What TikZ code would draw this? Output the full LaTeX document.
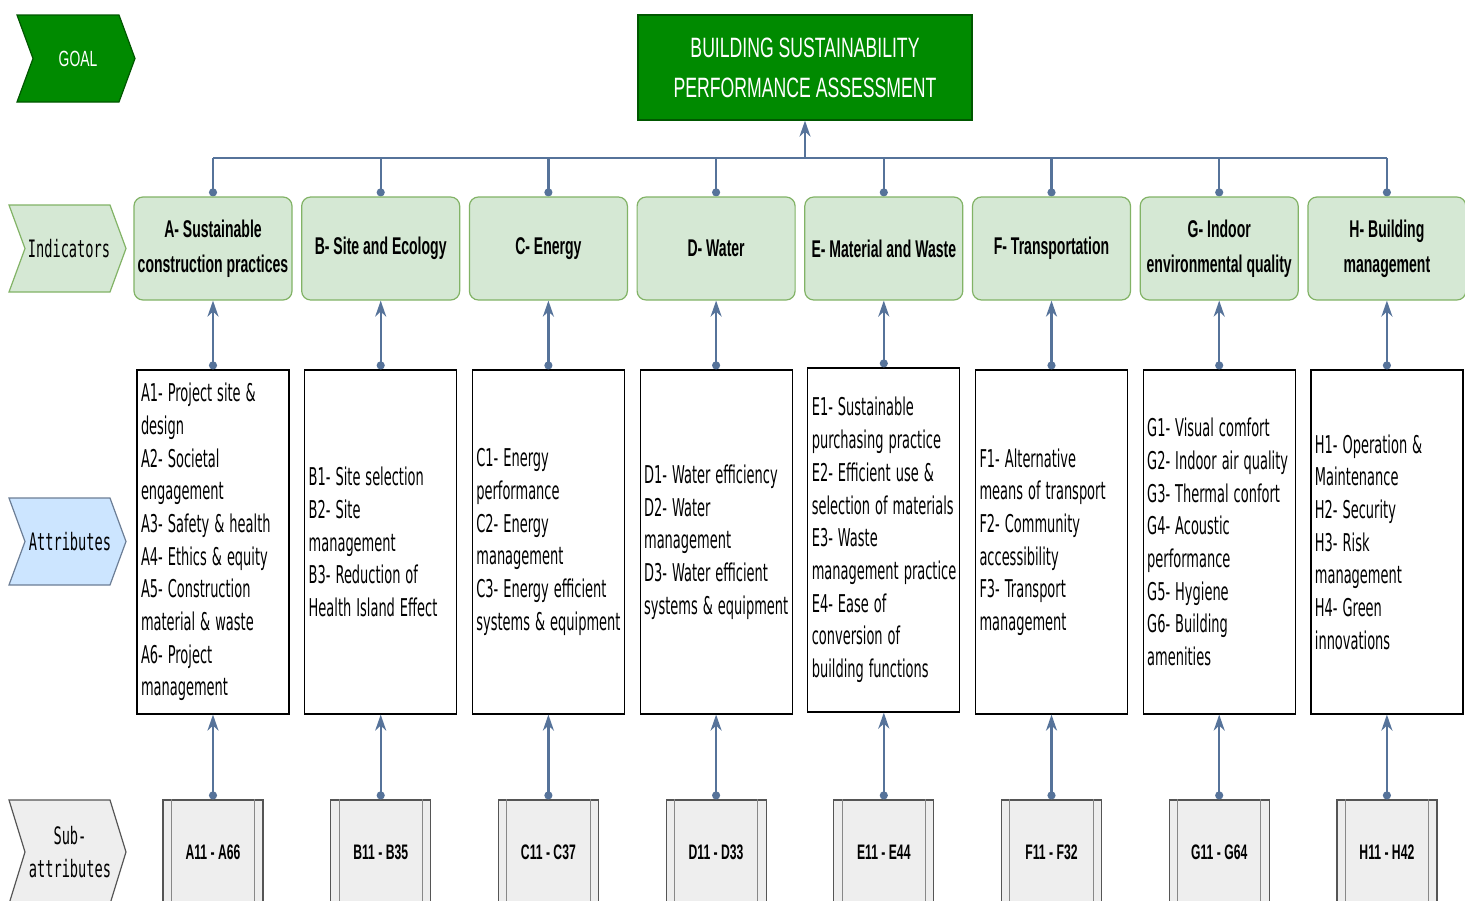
\documentclass[tikz,border=0pt]{standalone}
\usepackage{fontspec}
\setmainfont{DejaVu Sans}
\newfontfamily\attrfont[FakeStretch=0.53]{DejaVu Sans}
\newfontfamily\indfont[FakeStretch=0.58]{Liberation Sans}
\newfontfamily\titlefont[FakeStretch=0.63]{Liberation Sans}
\newfontfamily\monofont[FakeStretch=0.57]{DejaVu Sans Mono}
\usetikzlibrary{arrows.meta,backgrounds}
\definecolor{titlegreen}{HTML}{008A00}
\definecolor{titleborder}{HTML}{005700}
\definecolor{indfill}{HTML}{D5E8D4}
\definecolor{indborder}{HTML}{82B366}
\definecolor{attrfill}{HTML}{CCE5FF}
\definecolor{attrborder}{HTML}{6C7E96}
\definecolor{subfill}{HTML}{EEEEEE}
\definecolor{subborder}{HTML}{555555}
\definecolor{conncol}{HTML}{56739A}
\tikzset{
  conn/.style={draw=conncol, line width=2.2pt},
  dotarrow/.style={conn, {Circle[length=8pt,width=8pt]}-{Stealth[length=16pt,width=11pt,inset=5pt]}},
  dotline/.style={conn, {Circle[length=8pt,width=8pt]}-},
  uparrow/.style={conn, -{Stealth[length=16pt,width=11pt,inset=5pt]}},
  titlebox/.style={draw=titleborder, fill=titlegreen, line width=1.2pt, minimum width=334pt, minimum height=105pt, text=white, align=center, inner sep=0pt, font=\titlefont\fontsize{28}{40}\selectfont},
  indbox/.style={draw=indborder, fill=indfill, line width=1.2pt, rounded corners=9pt, minimum width=158pt, minimum height=103pt, align=center, inner sep=0pt, font=\indfont\bfseries\fontsize{24.2}{35}\selectfont},
  attrbox/.style={draw=black, line width=1.2pt, fill=white, minimum width=152pt, minimum height=344pt, text width=144pt, inner xsep=4pt, inner ysep=0pt, align=left, font=\attrfont\fontsize{24.5}{32.7}\selectfont},
  subbox/.style={draw=subborder, fill=subfill, line width=1.2pt, minimum width=100pt, minimum height=104pt, inner sep=0pt, font=\indfont\bfseries\fontsize{21}{25}\selectfont},
  subline/.style={draw=subborder!70, line width=1pt},
  goalchev/.style={fill=titlegreen, draw=titleborder, line width=1.2pt},
  indchev/.style={fill=indfill, draw=indborder, line width=1.2pt},
  attrchev/.style={fill=attrfill, draw=attrborder, line width=1.2pt},
  subchev/.style={fill=subfill, draw=subborder, line width=1.2pt},
  monolabel/.style={inner sep=0pt, align=center, font=\monofont\fontsize{24}{33}\selectfont},
  goallabel/.style={inner sep=0pt, text=white, font=\titlefont\fontsize{22}{26}\selectfont}
}
\newcommand{\aline}[1]{\mbox{\spaceskip=5pt\relax #1}}
\begin{document}
\begin{tikzpicture}[x=1pt,y=-1pt]
\useasboundingbox (0,0) rectangle (1465,900);

% chevrons (row labels)
\draw[goalchev] (17,15) -- (119,15) -- (135,58.5) -- (119,102) -- (17,102) -- (33,58.5) -- cycle;
\node[goallabel] (goal) at (78,58.5) {GOAL};
\draw[indchev] (9,205) -- (110,205) -- (126,248.5) -- (110,292) -- (9,292) -- (25,248.5) -- cycle;
\node[monolabel] (lind) at (69,248.5) {Indicators};
\draw[attrchev] (9,498) -- (110,498) -- (126,541.5) -- (110,585) -- (9,585) -- (25,541.5) -- cycle;
\node[monolabel] (lattr) at (70,541.5) {Attributes};
\draw[subchev] (9,800) -- (110,800) -- (126,852) -- (110,904) -- (9,904) -- (25,852) -- cycle;
\node[monolabel] (lsub) at (70,852) {Sub-\\attributes};

% title
\node[titlebox] (title) at (805,67.5) {BUILDING SUSTAINABILITY\\PERFORMANCE ASSESSMENT};

% indicators
\node[indbox] (indA) at (213,248.5) {A- Sustainable\\construction practices};
\node[indbox] (indB) at (380.7,248.5) {B- Site and Ecology};
\node[indbox] (indC) at (548.4,248.5) {C- Energy};
\node[indbox] (indD) at (716.1,248.5) {D- Water};
\node[indbox] (indE) at (883.8,248.5) {E- Material and Waste};
\node[indbox] (indF) at (1051.5,248.5) {F- Transportation};
\node[indbox] (indG) at (1219.2,248.5) {G- Indoor\\environmental quality};
\node[indbox] (indH) at (1386.9,248.5) {H- Building\\management};

% attributes
\node[attrbox] (attA) at (213,542) {\aline{A1- Project site \&}\\\aline{design}\\\aline{A2- Societal}\\\aline{engagement}\\\aline{A3- Safety \& health}\\\aline{A4- Ethics \& equity}\\\aline{A5- Construction}\\\aline{material \& waste}\\\aline{A6- Project}\\\aline{management}};
\node[attrbox] (attB) at (380.7,542) {\aline{B1- Site selection}\\\aline{B2- Site}\\\aline{management}\\\aline{B3- Reduction of}\\\aline{Health Island Effect}};
\node[attrbox] (attC) at (548.4,542) {\aline{C1- Energy}\\\aline{performance}\\\aline{C2- Energy}\\\aline{management}\\\aline{C3- Energy efficient}\\\aline{systems \& equipment}};
\node[attrbox] (attD) at (716.1,542) {\aline{D1- Water efficiency}\\\aline{D2- Water}\\\aline{management}\\\aline{D3- Water efficient}\\\aline{systems \& equipment}};
\node[attrbox] (attE) at (883.8,540) {\aline{E1- Sustainable}\\\aline{purchasing practice}\\\aline{E2- Efficient use \&}\\\aline{selection of materials}\\\aline{E3- Waste}\\\aline{management practice}\\\aline{E4- Ease of}\\\aline{conversion of}\\\aline{building functions}};
\node[attrbox] (attF) at (1051.5,542) {\aline{F1- Alternative}\\\aline{means of transport}\\\aline{F2- Community}\\\aline{accessibility}\\\aline{F3- Transport}\\\aline{management}};
\node[attrbox] (attG) at (1219.2,542) {\aline{G1- Visual comfort}\\\aline{G2- Indoor air quality}\\\aline{G3- Thermal confort}\\\aline{G4- Acoustic}\\\aline{performance}\\\aline{G5- Hygiene}\\\aline{G6- Building}\\\aline{amenities}};
\node[attrbox] (attH) at (1386.9,542) {\aline{H1- Operation \&}\\\aline{Maintenance}\\\aline{H2- Security}\\\aline{H3- Risk}\\\aline{management}\\\aline{H4- Green}\\\aline{innovations}};

% sub-attributes
\node[subbox] (subA) at (213,852) {A11 - A66};
\node[subbox] (subB) at (380.7,852) {B11 - B35};
\node[subbox] (subC) at (548.4,852) {C11 - C37};
\node[subbox] (subD) at (716.1,852) {D11 - D33};
\node[subbox] (subE) at (883.8,852) {E11 - E44};
\node[subbox] (subF) at (1051.5,852) {F11 - F32};
\node[subbox] (subG) at (1219.2,852) {G11 - G64};
\node[subbox] (subH) at (1386.9,852) {H11 - H42};

\foreach \k in {A,B,C,D,E,F,G,H} {
  \draw[subline] ([xshift=9pt]sub\k.north west) -- ([xshift=9pt]sub\k.south west);
  \draw[subline] ([xshift=-9pt]sub\k.north east) -- ([xshift=-9pt]sub\k.south east);
  \draw[dotarrow] (att\k.north) -- (ind\k.south);
  \draw[dotarrow] (sub\k.north) -- (att\k.south);
  \coordinate (bus\k) at (ind\k.north |- 0,158);
}
\coordinate (busM) at (title.south |- 0,158);
\draw[uparrow] (busM) -- (title.south);

\begin{scope}[on background layer]
  \fill[white] (0,0) rectangle (1465,900);
  \draw[conn] (busA) -- (busH);
  \foreach \k in {A,B,C,D,E,F,G,H} {
    \draw[dotline] (ind\k.north) -- (bus\k);
  }
\end{scope}
\end{tikzpicture}
\end{document}
